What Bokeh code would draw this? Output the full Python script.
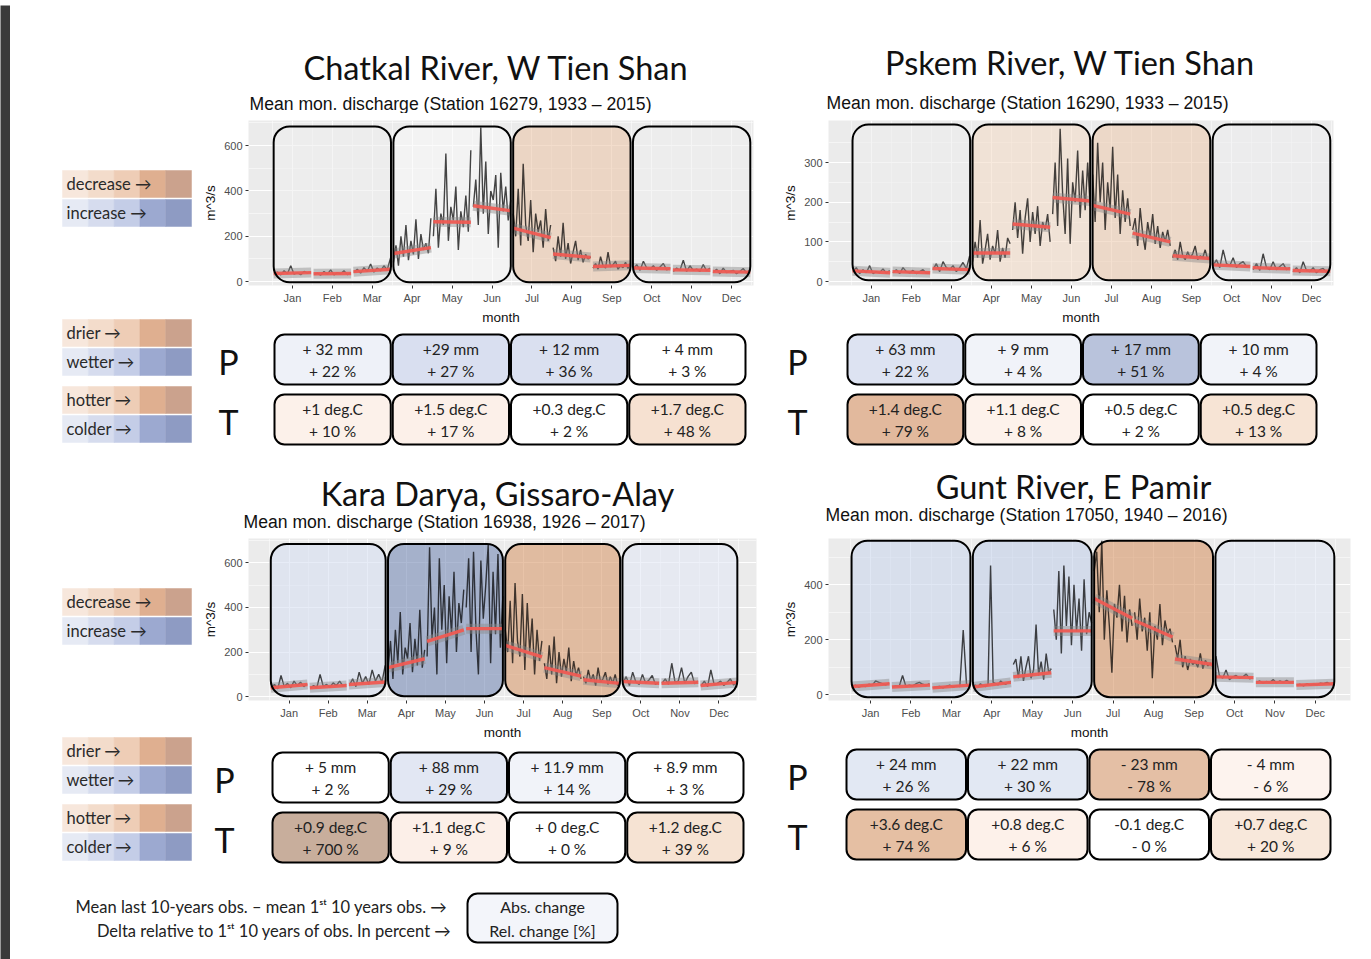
import numpy as np
from bokeh.plotting import figure
from bokeh.layouts import row, column
from bokeh.models import Range1d, FixedTicker
from bokeh.core.properties import value
from bokeh.embed import file_html
from bokeh.resources import INLINE

# ---------------- data ----------------
MONTHS = ["Jan", "Feb", "Mar", "Apr", "May", "Jun", "Jul", "Aug", "Sep", "Oct", "Nov", "Dec"]
SEASON_FIRST_MONTH = [1, 4, 7, 10]

chatkal_flow = [
    [36, 42, 30, 48, 35, 70, 33, 40, 31, 45, 38, 42],
    [32, 38, 29, 45, 33, 52, 30, 40, 35, 48, 31, 38],
    [40, 55, 38, 62, 45, 78, 42, 60, 48, 70, 52, 105],
    [85, 160, 70, 200, 110, 250, 95, 180, 120, 275, 100, 210, 140, 170, 125, 280],
    [200, 410, 150, 300, 250, 565, 180, 330, 270, 420, 140, 310, 240, 380, 220, 580],
    [330, 450, 250, 680, 300, 530, 210, 400, 360, 470, 150, 480, 310, 420, 270, 360],
    [300, 200, 410, 160, 520, 250, 180, 360, 130, 300, 220, 270, 150, 320, 180, 250],
    [150, 90, 200, 110, 260, 100, 170, 80, 130, 180, 95, 140, 85, 120, 100, 110],
    [60, 80, 55, 110, 70, 60, 130, 65, 75, 90, 55, 70, 62, 85, 58, 80],
    [55, 75, 50, 90, 60, 55, 70, 50, 65, 80, 52, 60],
    [45, 60, 50, 95, 45, 70, 50, 55, 45, 75, 48, 60],
    [40, 55, 35, 60, 40, 45, 50, 35, 45, 58, 38, 50],
]
chatkal_trend_start = [36, 35, 44, 124, 264, 335, 236, 122, 67, 60, 52, 45]
chatkal_trend_end = [40, 36, 55, 150, 262, 313, 194, 107, 72, 57, 50, 42]

pskem_flow = [
    [25, 35, 20, 30, 22, 40, 20, 25, 22, 32, 21, 28],
    [22, 30, 20, 35, 25, 22, 28, 20, 25, 30, 21, 22],
    [30, 45, 25, 50, 35, 30, 40, 25, 35, 48, 32, 65],
    [50, 100, 60, 155, 45, 80, 120, 55, 90, 70, 130, 50, 85, 60, 110, 95],
    [130, 200, 110, 180, 70, 160, 210, 100, 175, 120, 190, 90, 150, 130, 170, 100],
    [170, 300, 140, 385, 220, 120, 310, 95, 250, 200, 330, 160, 280, 180, 300, 190],
    [270, 150, 350, 200, 300, 130, 250, 180, 340, 160, 270, 120, 230, 150, 210, 140],
    [130, 160, 90, 185, 120, 80, 150, 110, 170, 95, 140, 85, 125, 100, 130, 90],
    [60, 80, 55, 100, 65, 55, 75, 60, 70, 90, 55, 65, 60, 80, 55, 65],
    [40, 55, 35, 80, 45, 40, 60, 35, 45, 50, 38, 40],
    [30, 45, 28, 70, 35, 30, 50, 30, 38, 45, 30, 35],
    [25, 35, 22, 50, 28, 25, 35, 22, 30, 33, 24, 28],
]
pskem_trend_start = [27, 25, 33, 72, 145, 212, 192, 122, 65, 42, 35, 28]
pskem_trend_end = [22, 22, 30, 72, 137, 203, 170, 100, 58, 38, 32, 26]

karadarya_flow = [
    [40, 55, 35, 95, 45, 60, 40, 70, 50, 65, 45, 58],
    [38, 50, 40, 100, 45, 55, 42, 62, 50, 70, 48, 55],
    [50, 80, 45, 110, 60, 90, 55, 120, 70, 100, 65, 140],
    [120, 250, 80, 300, 150, 380, 100, 220, 170, 330, 110, 260, 140, 390, 130, 210],
    [180, 670, 260, 400, 100, 620, 300, 500, 150, 450, 280, 560, 200, 420, 330, 480],
    [400, 620, 200, 650, 300, 100, 610, 350, 500, 680, 150, 560, 280, 640, 220, 450],
    [300, 200, 430, 150, 510, 250, 180, 460, 120, 420, 200, 350, 100, 300, 160, 250],
    [150, 80, 230, 100, 270, 60, 200, 90, 170, 110, 220, 70, 160, 95, 130, 80],
    [90, 60, 120, 70, 100, 50, 130, 65, 80, 110, 55, 90, 60, 100, 50, 70],
    [60, 90, 50, 110, 65, 55, 100, 60, 75, 95, 55, 65],
    [60, 80, 55, 150, 65, 70, 130, 60, 90, 110, 58, 70],
    [50, 70, 45, 120, 55, 60, 70, 50, 65, 80, 52, 70],
]
karadarya_trend_start = [40, 40, 55, 130, 248, 305, 230, 130, 76, 68, 60, 50]
karadarya_trend_end = [55, 50, 66, 170, 300, 305, 178, 92, 60, 60, 65, 64]

gunt_flow = [
    [30, 35, 28, 32, 30, 38, 35, 50, 45, 40, 36, 42],
    [28, 32, 30, 70, 30, 35, 32, 40, 45, 38, 34, 40],
    [25, 28, 30, 25, 30, 35, 28, 32, 30, 235, 34, 35],
    [30, 35, 28, 40, 32, 30, 38, 470, 45, 40, 36, 50, 42, 38, 45, 48],
    [110, 130, 60, 140, 50, 100, 140, 60, 90, 255, 70, 120, 55, 150, 80, 95],
    [310, 200, 450, 150, 470, 250, 430, 180, 400, 230, 350, 160, 420, 220, 300, 260],
    [450, 520, 300, 560, 200, 380, 250, 80, 330, 280, 400, 230, 360, 190, 310, 250],
    [300, 200, 350, 230, 280, 160, 300, 60, 250, 200, 330, 180, 270, 220, 240, 190],
    [180, 130, 200, 100, 140, 90, 130, 110, 120, 100, 150, 95, 125, 105, 115, 100],
    [140, 70, 60, 90, 55, 65, 70, 60, 65, 75, 58, 62],
    [45, 50, 42, 48, 45, 55, 43, 50, 45, 52, 44, 48],
    [35, 38, 32, 40, 35, 38, 36, 42, 40, 45, 38, 45],
]
gunt_trend_start = [30, 28, 25, 28, 65, 232, 350, 270, 130, 65, 45, 35]
gunt_trend_end = [40, 35, 35, 45, 80, 232, 278, 210, 110, 62, 45, 40]

# change tables (P = precipitation, T = temperature), one entry per season
chatkal_p_abs = ["+ 32 mm", "+29 mm", "+ 12 mm", "+ 4 mm"]
chatkal_p_rel = ["+ 22 %", "+ 27 %", "+ 36 %", "+ 3 %"]
chatkal_t_abs = ["+1 deg.C", "+1.5 deg.C", "+0.3 deg.C", "+1.7 deg.C"]
chatkal_t_rel = ["+ 10 %", "+ 17 %", "+ 2 %", "+ 48 %"]

pskem_p_abs = ["+ 63 mm", "+ 9 mm", "+ 17 mm", "+ 10 mm"]
pskem_p_rel = ["+ 22 %", "+ 4 %", "+ 51 %", "+ 4 %"]
pskem_t_abs = ["+1.4 deg.C", "+1.1 deg.C", "+0.5 deg.C", "+0.5 deg.C"]
pskem_t_rel = ["+ 79 %", "+ 8 %", "+ 2 %", "+ 13 %"]

karadarya_p_abs = ["+ 5 mm", "+ 88 mm", "+ 11.9 mm", "+ 8.9 mm"]
karadarya_p_rel = ["+ 2 %", "+ 29 %", "+ 14 %", "+ 3 %"]
karadarya_t_abs = ["+0.9 deg.C", "+1.1 deg.C", "+ 0 deg.C", "+1.2 deg.C"]
karadarya_t_rel = ["+ 700 %", "+ 9 %", "+ 0 %", "+ 39 %"]

gunt_p_abs = ["+ 24 mm", "+ 22 mm", "- 23 mm", "- 4 mm"]
gunt_p_rel = ["+ 26 %", "+ 30 %", "- 78 %", "- 6 %"]
gunt_t_abs = ["+3.6 deg.C", "+0.8 deg.C", "-0.1 deg.C", "+0.7 deg.C"]
gunt_t_rel = ["+ 74 %", "+ 6 %", "- 0 %", "+ 20 %"]

# ---------------- styles ----------------
TITLE_FONT = "Lato"
AX_FONT = "Liberation Sans"
DARK = "#3a3a3a"
DEC_COLORS = ["#f7e7dc", "#f3dccb", "#eecdb6", "#dfaf90", "#cba28d"]
INC_COLORS = ["#e6eaf4", "#d6dcee", "#c4cde7", "#9ca9d0", "#8e9bc3"]

chatkal_box_fill = ["#eeeeee", "#f8f8f8", "#ebc6aa", "#eeeeef"]
pskem_box_fill = ["#ececec", "#f3dcc8", "#edcbb1", "#ececee"]
karadarya_box_fill = ["#d7dff2", "#768ab6", "#d99b6e", "#e3e8f5"]
gunt_box_fill = ["#cbd7ed", "#c3d0e9", "#d79667", "#dfe6f3"]

chatkal_p_fill = ["#eef1f8", "#d9dff0", "#dae0f0", "#ffffff"]
chatkal_t_fill = ["#fcf1ea", "#fcf0e9", "#ffffff", "#f6e1d1"]
pskem_p_fill = ["#dde3f2", "#f1f3f9", "#b9c3dc", "#f1f3f9"]
pskem_t_fill = ["#e2b99d", "#fdf2eb", "#ffffff", "#f7e4d5"]
karadarya_p_fill = ["#ffffff", "#e2e7f3", "#f1f3f9", "#ffffff"]
karadarya_t_fill = ["#c8ae9c", "#fcefe8", "#ffffff", "#f6e3d3"]
gunt_p_fill = ["#e2e8f3", "#e2e8f3", "#e4bfa5", "#fdf3ee"]
gunt_t_fill = ["#e5bfa3", "#fdf1ea", "#ffffff", "#f8e8db"]


def blank(w, h, xr, yr, bg="white"):
    p = figure(width=w, height=h, x_range=Range1d(*xr), y_range=Range1d(*yr),
               output_backend="svg", toolbar_location=None, min_border=0,
               x_axis_type=None, y_axis_type=None)
    p.outline_line_color = None
    p.background_fill_color = bg
    p.border_fill_color = bg
    return p


def header(px0, px1, py0, py1, title, tx, ty, sub, sx, sy):
    p = blank(px1 - px0, py1 - py0, (px0, px1), (py1, py0))
    p.text(x=[tx], y=[ty], text=[title], text_font=value(TITLE_FONT), text_font_size="32.5px",
           text_align="center", text_baseline="middle", text_color="#111111")
    p.text(x=[sx], y=[sy], text=[sub], text_font=value(AX_FONT), text_font_size="17.6px",
           text_align="left", text_baseline="middle", text_color="#111111")
    return p


def discharge(w, h, borders, xr, yr, yticks, yminor, flow, t0, t1, box_fill, box_bottom, box_top):
    l, r, t, b = borders
    p = figure(width=w, height=h, x_range=Range1d(*xr), y_range=Range1d(*yr),
               output_backend="svg", toolbar_location=None,
               min_border_left=l, min_border_right=r, min_border_top=t, min_border_bottom=b)
    p.background_fill_color = "#ebebeb"
    p.border_fill_color = "white"
    p.outline_line_color = None
    months = list(range(1, 13))
    p.xaxis.ticker = FixedTicker(ticks=months, minor_ticks=[m - 0.5 for m in months] + [12.5])
    p.xaxis.major_label_overrides = {m: MONTHS[m - 1] for m in months}
    p.yaxis.ticker = FixedTicker(ticks=yticks, minor_ticks=yminor)
    p.xaxis.axis_label = "month"
    p.yaxis.axis_label = "m^3/s"
    for ax in (p.xaxis, p.yaxis):
        ax.axis_line_color = None
        ax.major_tick_line_color = "#333333"
        ax.major_tick_out = 3
        ax.major_tick_in = 0
        ax.minor_tick_line_color = None
        ax.major_label_text_font = AX_FONT
        ax.major_label_text_font_size = "11px"
        ax.major_label_text_color = "#4d4d4d"
        ax.major_label_standoff = 2
        ax.axis_label_text_font = AX_FONT
        ax.axis_label_text_font_size = "13.5px"
        ax.axis_label_text_font_style = "normal"
        ax.axis_label_text_color = "#111111"
        ax.axis_label_standoff = 3
    p.grid.grid_line_color = "white"
    p.grid.grid_line_width = 1.1
    p.grid.minor_grid_line_color = "white"
    p.grid.minor_grid_line_width = 0.5

    left = [s - 0.5 + 0.03 for s in SEASON_FIRST_MONTH]
    right = [s + 2.5 - 0.03 for s in SEASON_FIRST_MONTH]
    # tinted seasonal overlay
    p.quad(left=left, right=right, bottom=box_bottom, top=box_top, fill_color=box_fill,
           fill_alpha=0.6, line_color=None, border_radius=16)
    xs, ys = [], []
    for m, vals in enumerate(flow, start=1):
        n = len(vals)
        xs.append([m - 0.5 + (k + 0.5) / n for k in range(n)])
        ys.append(vals)
    p.multi_line(xs, ys, line_color="#000000", line_width=1.4, line_alpha=0.72)
    mx = np.arange(1, 13)
    p.segment(x0=mx - 0.47, y0=t0, x1=mx + 0.47, y1=t1, line_color="#8a8a8a",
              line_width=10, line_alpha=0.45)
    p.segment(x0=mx - 0.47, y0=t0, x1=mx + 0.47, y1=t1, line_color="#ef5b53",
              line_width=3.4, line_alpha=0.95)
    p.quad(left=left, right=right, bottom=box_bottom, top=box_top, fill_color=None,
           line_color="black", line_width=2, border_radius=16)
    return p


def table(w, h, page_x0, page_y0, box_x0, box_x1, row0_y, letter_x,
          p_abs, p_rel, t_abs, t_rel, p_fill, t_fill):
    unit = (box_x1 - box_x0) / 4.0
    pitch, box_h = 60.0, 50.0
    xr = ((page_x0 - box_x0) / unit, (page_x0 + w - box_x0) / unit)
    yr = ((page_y0 + h - row0_y) / pitch, (page_y0 - row0_y) / pitch)
    p = blank(w, h, xr, yr)
    idx = np.arange(4)
    g = 1.0 / unit
    bh = box_h / pitch
    for r, fills, a, rel, letter in [(0, p_fill, p_abs, p_rel, "P"), (1, t_fill, t_abs, t_rel, "T")]:
        p.quad(left=idx + g, right=idx + 1 - g, top=[r] * 4, bottom=[r + bh] * 4,
               fill_color=fills, line_color="black", line_width=2, border_radius=10)
        p.text(x=idx + 0.5, y=[r + 14 / pitch] * 4, text=a, text_font=value(TITLE_FONT),
               text_font_size="15.5px", text_align="center", text_baseline="middle",
               text_color="#222222")
        p.text(x=idx + 0.5, y=[r + 36 / pitch] * 4, text=rel, text_font=value(TITLE_FONT),
               text_font_size="15.5px", text_align="center", text_baseline="middle",
               text_color="#222222")
        p.text(x=[(letter_x - box_x0) / unit], y=[r + 27 / pitch], text=[letter],
               text_font=value(TITLE_FONT), text_font_size="34px", text_align="center",
               text_baseline="middle", text_color="#111111")
    return p


def legend(w, h, page_x0, page_y0, row0_y, labels, color_rows):
    cell_x0, cw, pitch, rh = 62.0, 25.8, 29.0, 27.0
    xr = ((page_x0 - cell_x0) / cw, (page_x0 + w - cell_x0) / cw)
    yr = ((page_y0 + h - row0_y) / pitch, (page_y0 - row0_y) / pitch)
    p = blank(w, h, xr, yr)
    idx = np.arange(5)
    for r, (lab, cols) in enumerate(zip(labels, color_rows)):
        p.quad(left=idx, right=idx + 1, top=[r] * 5, bottom=[r + rh / pitch] * 5,
               fill_color=cols, line_color=cols, line_width=0.5)
        p.text(x=[4 / cw], y=[r + rh / pitch / 2], text=[lab + " \u2192"],
               text_font=value(TITLE_FONT), text_font_size="16.5px", text_align="left",
               text_baseline="middle", text_color="#2a2a2a")
    return p


# ---------------- top half ----------------
hdr_tl = header(10, 780, 5, 113, "Chatkal River, W Tien Shan", 496, 67,
                "Mean mon. discharge (Station 16279, 1933 \u2013 2015)", 249, 103)
hdr_tr = header(780, 1371, 5, 113, "Pskem River, W Tien Shan", 1070, 62,
                "Mean mon. discharge (Station 16290, 1933 \u2013 2015)", 826, 102)

leg_dis_tl = legend(190, 187, 10, 113, 170, ["decrease", "increase"], [DEC_COLORS, INC_COLORS])
leg_pw_tl = legend(190, 81, 10, 300, 319, ["drier", "wetter"], [DEC_COLORS, INC_COLORS])
leg_hc_tl = legend(190, 69, 10, 381, 386, ["hotter", "colder"], [DEC_COLORS, INC_COLORS])

plot_tl = discharge(580, 214, (47, 27, 7, 36), (-0.1, 12.55), (-17, 711),
                    [0, 200, 400, 600], [100, 300, 500, 700],
                    chatkal_flow, chatkal_trend_start, chatkal_trend_end,
                    chatkal_box_fill, -3, 685)
plot_tr = discharge(591, 214, (47, 38, 4, 41), (-0.07, 12.55), (-10, 406),
                    [0, 100, 200, 300], [50, 150, 250, 350],
                    pskem_flow, pskem_trend_start, pskem_trend_end,
                    pskem_box_fill, 3, 396)

tbl_tl = table(580, 123, 200, 327, 273, 746, 334, 228,
               chatkal_p_abs, chatkal_p_rel, chatkal_t_abs, chatkal_t_rel,
               chatkal_p_fill, chatkal_t_fill)
tbl_tr = table(591, 123, 780, 327, 846, 1317, 334, 797,
               pskem_p_abs, pskem_p_rel, pskem_t_abs, pskem_t_rel,
               pskem_p_fill, pskem_t_fill)

top_half = column(
    row(hdr_tl, hdr_tr),
    row(column(leg_dis_tl, leg_pw_tl, leg_hc_tl),
        column(row(plot_tl, plot_tr), row(tbl_tl, tbl_tr))),
)

# ---------------- bottom half ----------------
hdr_bl = header(10, 780, 450, 532, "Kara Darya, Gissaro-Alay", 497, 493,
                "Mean mon. discharge (Station 16938, 1926 \u2013 2017)", 243, 521)
hdr_br = header(780, 1371, 450, 532, "Gunt River, E Pamir", 1073, 486,
                "Mean mon. discharge (Station 17050, 1940 \u2013 2016)", 825, 514)

leg_dis_bl = legend(190, 188, 10, 532, 588, ["decrease", "increase"], [DEC_COLORS, INC_COLORS])
leg_pw_bl = legend(190, 79, 10, 720, 737, ["drier", "wetter"], [DEC_COLORS, INC_COLORS])
leg_hc_bl = legend(190, 71, 10, 799, 804, ["hotter", "colder"], [DEC_COLORS, INC_COLORS])

plot_bl = discharge(580, 213, (44, 24, 6, 34), (-0.04, 12.96), (-17, 709),
                    [0, 200, 400, 600], [100, 300, 500, 700],
                    karadarya_flow, karadarya_trend_start, karadarya_trend_end,
                    karadarya_box_fill, 2, 684)
plot_br = discharge(591, 213, (47, 21, 3, 45), (-0.04, 12.87), (-21, 568),
                    [0, 200, 400], [100, 300, 500],
                    gunt_flow, gunt_trend_start, gunt_trend_end,
                    gunt_box_fill, -9, 560)

tbl_bl = table(580, 125, 200, 745, 271, 744, 752, 224,
               karadarya_p_abs, karadarya_p_rel, karadarya_t_abs, karadarya_t_rel,
               karadarya_p_fill, karadarya_t_fill)
tbl_br = table(591, 125, 780, 745, 845, 1331, 749, 797,
               gunt_p_abs, gunt_p_rel, gunt_t_abs, gunt_t_rel,
               gunt_p_fill, gunt_t_fill)

bottom_half = column(
    row(hdr_bl, hdr_br),
    row(column(leg_dis_bl, leg_pw_bl, leg_hc_bl),
        column(row(plot_bl, plot_br), row(tbl_bl, tbl_br))),
)

# ---------------- explanation band ----------------
expl = blank(1361, 89, (10, 1371), (959, 870))
expl.text(x=[451, 451], y=[906, 930],
          text=["Mean last 10-years  obs. \u2013 mean 1\u02e2\u1d57 10 years obs. \u2192",
                "Delta relative to 1\u02e2\u1d57 10 years of obs. In percent \u2192"],
          text_font=value(TITLE_FONT), text_font_size="16.5px", text_align="right",
          text_baseline="middle", text_color="#222222")
expl.quad(left=[467], right=[617], top=[893], bottom=[942], fill_color="#f3f5fa",
          line_color="black", line_width=2, border_radius=10)
expl.text(x=[542, 542], y=[906, 930], text=["Abs. change", "Rel. change [%]"],
          text_font=value(TITLE_FONT), text_font_size="16px", text_align="center",
          text_baseline="middle", text_color="#222222")

main = column(top_half, bottom_half, expl)

top_strip = blank(1371, 5, (0, 1), (0, 1), bg=DARK)
left_strip = blank(10, 954, (0, 1), (0, 1), bg=DARK)

page = column(top_strip, row(left_strip, main))

open("out.html", "w").write(file_html(page, INLINE))
